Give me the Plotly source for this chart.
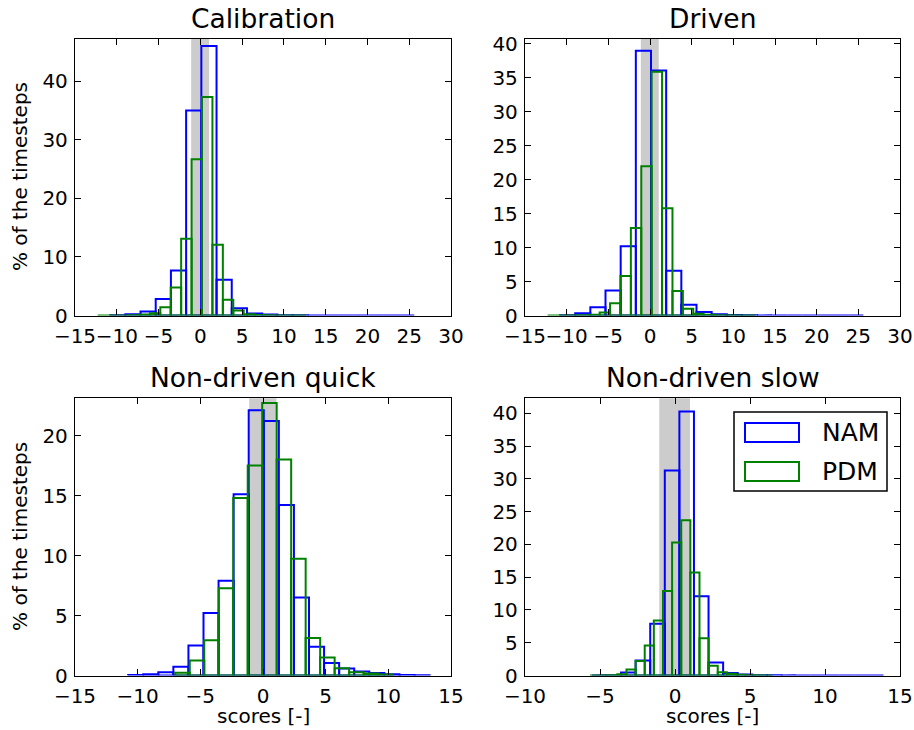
import numpy as np
import plotly.graph_objects as go

# ---------------- data ----------------
panel_titles = ["Calibration", "Driven", "Non-driven quick", "Non-driven slow"]
series_names = ["NAM", "PDM"]

# histogram ranges (first edge, last edge) and bin heights [% of timesteps]
cal_nam_range = (-10.8, 25.6)
cal_nam = [0.05, 0.23, 0.68, 2.8, 7.7, 35.0, 46.0, 6.1, 1.25, 0.34,
           0.15, 0.05, 0.03, 0.02, 0.01, 0.01, 0.01, 0.0, 0.0, 0.01]
cal_pdm_range = (-12.28, 12.68)
cal_pdm = [0.01, 0.01, 0.02, 0.05, 0.15, 0.4, 1.4, 4.8, 13.1, 26.7,
           37.3, 12.1, 2.7, 0.85, 0.2, 0.08, 0.03, 0.01, 0.01, 0.01]

drv_nam_range = (-10.8, 25.6)
drv_nam = [0.05, 0.34, 1.23, 3.7, 10.2, 39.0, 36.1, 6.6, 1.6, 0.5,
           0.2, 0.08, 0.03, 0.02, 0.01, 0.01, 0.0, 0.0, 0.0, 0.01]
drv_pdm_range = (-12.28, 12.68)
drv_pdm = [0.01, 0.01, 0.02, 0.05, 0.1, 0.44, 1.8, 5.8, 12.9, 22.0,
           35.9, 15.8, 3.6, 1.0, 0.25, 0.1, 0.04, 0.02, 0.01, 0.01]

ndq_nam_range = (-10.76, 13.29)
ndq_nam = [0.05, 0.1, 0.28, 0.72, 2.5, 5.2, 7.9, 15.1, 22.1, 21.2,
           14.2, 6.5, 2.4, 1.05, 0.58, 0.33, 0.2, 0.1, 0.05, 0.03]
ndq_pdm_range = (-7.0, 10.34)
ndq_pdm = [0.22, 1.25, 2.94, 7.27, 14.8, 17.5, 22.7, 18.0, 9.73, 3.13,
           1.5, 0.61, 0.28, 0.17, 0.08]

nds_nam_range = (-5.54, 13.9)
nds_nam = [0.02, 0.05, 0.46, 2.3, 7.9, 31.3, 40.3, 12.1, 2.0, 0.4,
           0.15, 0.05, 0.03, 0.02, 0.01, 0.01, 0.01, 0.0, 0.0, 0.01]
nds_pdm_range = (-5.67, 6.5)
nds_pdm = [0.01, 0.02, 0.05, 0.2, 0.9, 2.2, 4.57, 8.4, 12.9, 20.3,
           23.7, 15.7, 5.7, 1.5, 0.5, 0.25, 0.1, 0.05, 0.02, 0.01]

# grey band (score interval) per panel
band_lo = [-1.1, -1.1, -1.1, -1.05]
band_hi = [1.05, 1.05, 1.07, 1.0]

# axis ranges and ticks
x_ranges = [(-15, 30), (-15, 30), (-15, 15), (-10, 15)]
y_ranges = [(0, 47.3), (0, 40.8), (0, 23.1), (0, 42.3)]
y_dticks = [10, 5, 5, 5]
x_dtick = 5

ylabel = "% of the timesteps"
xlabel = "scores [-]"

# ---------------- figure ----------------
W, H = 914, 730
FONT = "DejaVu Sans"
BLUE = "#0000ff"
GREEN = "#008000"

panels = [
    ((cal_nam_range, cal_nam), (cal_pdm_range, cal_pdm)),
    ((drv_nam_range, drv_nam), (drv_pdm_range, drv_pdm)),
    ((ndq_nam_range, ndq_nam), (ndq_pdm_range, ndq_pdm)),
    ((nds_nam_range, nds_nam), (nds_pdm_range, nds_pdm)),
]

# axes boxes in pixels: (left, right, top, bottom)
boxes = [(75, 451, 38.5, 315.5), (525, 900, 38.5, 315.5),
         (75, 451, 398.3, 675.5), (525, 900, 398.3, 675.5)]


def bar_outlines(rng, heights):
    """Outline of every histogram bar (unfilled rectangles)."""
    n = len(heights)
    edges = np.linspace(rng[0], rng[1], n + 1)
    xs, ys = [], []
    for i, h in enumerate(heights):
        xs += [edges[i], edges[i], edges[i + 1], edges[i + 1], edges[i], None]
        ys += [0.0, h, h, 0.0, 0.0, None]
    return xs, ys


fig = go.Figure()
layout = dict(
    template="none",
    width=W, height=H, margin=dict(l=0, r=0, t=0, b=0, autoexpand=False),
    paper_bgcolor="white", plot_bgcolor="white",
    font=dict(family=FONT, size=20, color="black"),
    showlegend=False,
)
annotations = []
shapes = []

for k, (box, series) in enumerate(zip(boxes, panels)):
    sfx = "" if k == 0 else str(k + 1)
    xa, ya = "x" + sfx, "y" + sfx
    l, r, t, b = box
    xdom = [l / W, r / W]
    ydom = [1 - b / H, 1 - t / H]
    for (rng, hts), color, name in zip(series, [BLUE, GREEN], series_names):
        xs, ys = bar_outlines(rng, hts)
        fig.add_trace(go.Scatter(x=xs, y=ys, mode="lines", name=name,
                                 line=dict(color=color, width=2),
                                 connectgaps=False,
                                 xaxis=xa, yaxis=ya, hoverinfo="skip"))
    common = dict(showline=True, linecolor="black", linewidth=1.3, mirror="ticks",
                  ticks="inside", ticklen=6, tickwidth=1, tickcolor="black",
                  showgrid=False, zeroline=False, automargin=False, tickangle=0,
                  tickfont=dict(family=FONT, size=20, color="black"))
    layout["xaxis" + sfx] = dict(domain=xdom, range=list(x_ranges[k]),
                                 tick0=0, dtick=x_dtick, anchor=ya, ticklabelstandoff=2,
                                 **common)
    layout["yaxis" + sfx] = dict(domain=ydom, range=list(y_ranges[k]),
                                 tick0=0, dtick=y_dticks[k], anchor=xa, ticklabelstandoff=2,
                                 **common)
    shapes.append(dict(type="rect", xref=xa, yref=ya + " domain",
                       x0=band_lo[k], x1=band_hi[k], y0=0, y1=1,
                       fillcolor="#cccccc", line=dict(width=0), layer="below"))
    annotations.append(dict(text=panel_titles[k], xref=xa + " domain", yref=ya + " domain",
                            x=0.5, y=1, xanchor="center", yanchor="bottom", yshift=3,
                            showarrow=False, font=dict(family=FONT, size=26.5, color="black")))
    if k in (0, 2):
        annotations.append(dict(text=ylabel, xref="paper", yref=ya + " domain",
                                x=20 / W, y=0.5, xanchor="center", yanchor="middle",
                                textangle=-90, showarrow=False,
                                font=dict(family=FONT, size=20, color="black")))
    if k in (2, 3):
        annotations.append(dict(text=xlabel, xref=xa + " domain", yref="paper",
                                x=0.5, y=1 - 716 / H, xanchor="center", yanchor="middle",
                                showarrow=False,
                                font=dict(family=FONT, size=20, color="black")))

# legend (matplotlib-style, drawn in the last panel)
leg_l, leg_r, leg_t, leg_b = 734, 887, 412, 491
shapes.append(dict(type="rect", xref="paper", yref="paper",
                   x0=leg_l / W, x1=leg_r / W, y0=1 - leg_b / H, y1=1 - leg_t / H,
                   line=dict(color="black", width=1.5), fillcolor="white", layer="above"))
for i, (name, color) in enumerate(zip(series_names, [BLUE, GREEN])):
    cy = 432.5 + i * 39
    shapes.append(dict(type="rect", xref="paper", yref="paper",
                       x0=745 / W, x1=799 / W, y0=1 - (cy + 9.5) / H, y1=1 - (cy - 9.5) / H,
                       line=dict(color=color, width=2), fillcolor="rgba(0,0,0,0)",
                       layer="above"))
    annotations.append(dict(text=name, xref="paper", yref="paper",
                            x=820 / W, y=1 - cy / H, xanchor="left", yanchor="middle",
                            showarrow=False, font=dict(family=FONT, size=25, color="black")))

layout["shapes"] = shapes
layout["annotations"] = annotations
fig.update_layout(**layout)
fig.write_html("out.html")
